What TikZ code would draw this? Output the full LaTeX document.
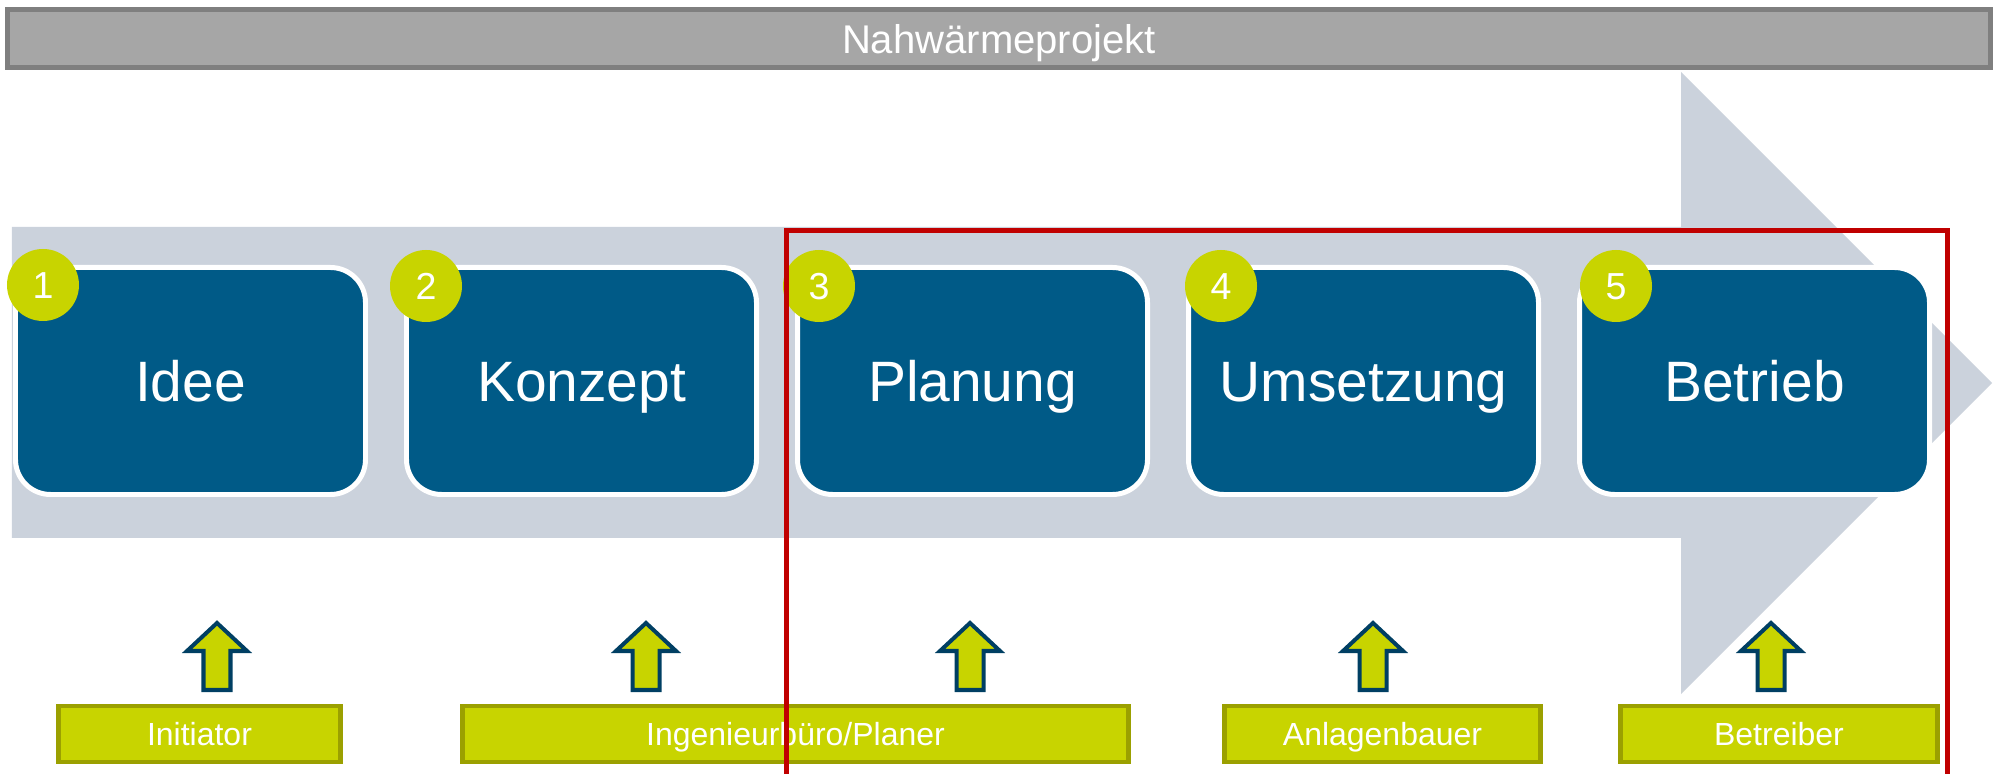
\documentclass[tikz,border=0pt]{standalone}
\usepackage{fontspec}
\setmainfont{Liberation Sans}

\definecolor{pfeilgrau}{HTML}{CBD2DC}
\definecolor{phasenblau}{HTML}{005A87}
\definecolor{gelbgruen}{HTML}{C8D400}
\definecolor{olivrand}{HTML}{9BA000}
\definecolor{dunkelblau}{HTML}{003F63}
\definecolor{titelgrau}{HTML}{A6A6A6}
\definecolor{titelrand}{HTML}{7F7F7F}
\definecolor{rahmenrot}{HTML}{C00000}

\begin{document}
\begin{tikzpicture}[x=1cm,y=-1cm,
  titel/.style={rectangle, fill=titelgrau, draw=titelrand, line width=1.42pt, text=white,
    font=\fontsize{11.4}{13}\selectfont, text height=8.5pt, text depth=0pt},
  phase/.style={rectangle, rounded corners=0.35cm, fill=phasenblau, draw=white, line width=1.42pt,
    minimum width=3.50cm, minimum height=2.27cm, text=white,
    font=\fontsize{16.2}{19}\selectfont, text height=11.6pt, text depth=0pt},
  nummer/.style={circle, fill=gelbgruen, minimum size=0.72cm, inner sep=0pt, text=white,
    font=\fontsize{10.7}{12}\selectfont, text height=7.7pt, text depth=0pt},
  akteur/.style={rectangle, fill=gelbgruen, draw=olivrand, line width=1.42pt, minimum height=0.56cm,
    text=white, font=\fontsize{9.1}{11}\selectfont, text height=6.5pt, text depth=0pt},
  hinweis/.style={fill=gelbgruen, draw=dunkelblau, line width=1.14pt}
]

\useasboundingbox (0,0) rectangle (20,7.74);

%%% Titel
\node[titel, minimum width=19.83cm, minimum height=0.58cm] (projekt) at (9.99,0.385) {Nahwärmeprojekt};

%%% großer Pfeil
\fill[pfeilgrau] (0.12,2.27) --(16.81,2.27) --(16.81,0.72) --(19.92,3.83)
  --(16.81,6.94) --(16.81,5.38) --(0.12,5.38) --cycle;

%% Phasen
\node[phase] (idee) at (1.905,3.81) {Idee};
\node[phase] (konzept) at (5.815,3.81) {Konzept};
\node[phase] (planung) at (9.725,3.81) {Planung};
\node[phase] (umsetzung) at (13.635,3.81) {Umsetzung};
\node[phase] (betrieb) at (17.545,3.81) {Betrieb};

%% Nummern
\node[nummer] (nr1) at (0.43,2.85) {1};
\node[nummer] (nr2) at (4.26,2.86) {2};
\node[nummer] (nr3) at (8.19,2.86) {3};
\node[nummer] (nr4) at (12.21,2.86) {4};
\node[nummer] (nr5) at (16.16,2.86) {5};

%% kleine Pfeile
\foreach \x in {2.17,6.46,9.70,13.73,17.71}
  \draw[hinweis] (\x,6.23) --(\x+0.30,6.51) --(\x+0.135,6.51) --(\x+0.135,6.90)
    --(\x-0.135,6.90) --(\x-0.135,6.51) --(\x-0.30,6.51) --cycle;

%% Beteiligte
\node[akteur, minimum width=2.82cm] (initiator) at (1.995,7.34) {Initiator};
\node[akteur, minimum width=6.66cm] (planer) at (7.955,7.34) {Ingenieurbüro/Planer};
\node[akteur, minimum width=3.16cm] (anlagenbauer) at (13.825,7.34) {Anlagenbauer};
\node[akteur, minimum width=3.17cm] (betreiber) at (17.79,7.34) {Betreiber};

%% roter Rahmen
\draw[rahmenrot, line width=1.42pt] (7.865,7.80) --(7.865,2.305) --(19.475,2.305) --(19.475,7.80);

\end{tikzpicture}
\end{document}
